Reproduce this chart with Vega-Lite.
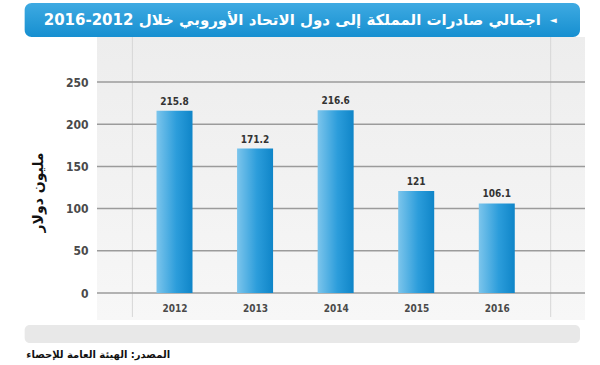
{
  "$schema": "https://vega.github.io/schema/vega-lite/v6.json",
  "width": 488,
  "height": 342,
  "autosize": {"type": "none"},
  "padding": {"left": 97, "top": 3, "right": 15, "bottom": 20},
  "background": "white",
  "config": {
    "view": {"stroke": null},
    "font": "DejaVu Sans",
    "axis": {"grid": false, "domain": false, "ticks": false, "title": null},
    "axisX": {"labelFont": "DejaVu Sans Condensed", "labelFontWeight": "bold", "labelFontSize": 10, "labelColor": "#4a4a4a"},
    "axisY": {"labelFont": "DejaVu Sans Condensed", "labelFontWeight": "bold", "labelFontSize": 12, "labelColor": "#4a4a4a"}
  },
  "datasets": {
    "exports": [
      {"year": 2012, "value": 215.8},
      {"year": 2013, "value": 171.2},
      {"year": 2014, "value": 216.6},
      {"year": 2015, "value": 121},
      {"year": 2016, "value": 106.1}
    ],
    "ticks": [{"tick": 0}, {"tick": 50}, {"tick": 100}, {"tick": 150}, {"tick": 200}, {"tick": 250}],
    "one": [{}]
  },
  "layer": [
    {
      "data": {"name": "one"},
      "mark": {"type": "rect", "fill": {"gradient": "linear", "x1": 0, "x2": 0, "y1": 0, "y2": 1, "stops": [{"offset": 0, "color": "#ededed"}, {"offset": 1, "color": "#f7f7f7"}]}},
      "encoding": {
        "y": {"datum": 303.3, "scale": {"domain": [-61.6, 343.6], "nice": false, "zero": false}},
        "y2": {"datum": -32}
      }
    },
    {
      "data": {"name": "one"},
      "mark": {"type": "rule", "color": "#d6d6d6", "strokeWidth": 1},
      "encoding": {
        "x": {"datum": 2011.477, "scale": {"domain": [2011.1, 2017.033], "nice": false, "zero": false}},
        "y": {"datum": 303.3, "scale": {"domain": [-61.6, 343.6], "nice": false, "zero": false}},
        "y2": {"datum": -28.4}
      }
    },
    {
      "data": {"name": "one"},
      "mark": {"type": "rule", "color": "#d6d6d6", "strokeWidth": 1},
      "encoding": {
        "x": {"datum": 2016.669, "scale": {"domain": [2011.1, 2017.033], "nice": false, "zero": false}},
        "y": {"datum": 303.3, "scale": {"domain": [-61.6, 343.6], "nice": false, "zero": false}},
        "y2": {"datum": -28.4}
      }
    },
    {
      "data": {"name": "ticks"},
      "mark": {"type": "rule", "color": "#9b9b9b", "strokeWidth": 1.5},
      "encoding": {
        "y": {"field": "tick", "type": "quantitative", "scale": {"domain": [-61.6, 343.6], "nice": false, "zero": false}}
      }
    },
    {
      "data": {"name": "exports"},
      "mark": {
        "type": "bar",
        "orient": "vertical",
        "size": 36,
        "fill": {"gradient": "linear", "x1": 0, "x2": 1, "y1": 0, "y2": 0, "stops": [{"offset": 0, "color": "#7cc5ec"}, {"offset": 0.55, "color": "#2c9ddb"}, {"offset": 1, "color": "#0f85c8"}]}
      },
      "encoding": {
        "x": {
          "field": "year", "type": "quantitative",
          "scale": {"domain": [2011.1, 2017.033], "nice": false, "zero": false},
          "axis": {"values": [2012, 2013, 2014, 2015, 2016], "format": "d", "title": null, "offset": -46, "labelPadding": 4, "zindex": 2}
        },
        "y": {
          "field": "value", "type": "quantitative",
          "scale": {"domain": [-61.6, 343.6], "nice": false, "zero": false},
          "axis": {
            "values": [0, 50, 100, 150, 200, 250], "labelPadding": 9,
            "title": "مليون دولار", "titleFont": "DejaVu Sans", "titleFontSize": 14, "titleFontWeight": "bold", "titleColor": "#111111",
            "titleX": -59, "titleY": 189, "titleAngle": -90, "titleAlign": "center", "titleBaseline": "middle"
          }
        },
        "y2": {"datum": 0}
      }
    },
    {
      "data": {"name": "exports"},
      "mark": {"type": "text", "dy": -9, "font": "DejaVu Sans Condensed", "fontWeight": "bold", "fontSize": 10, "color": "#333333"},
      "encoding": {
        "x": {"field": "year", "type": "quantitative", "scale": {"domain": [2011.1, 2017.033], "nice": false, "zero": false}},
        "y": {"field": "value", "type": "quantitative", "scale": {"domain": [-61.6, 343.6], "nice": false, "zero": false}},
        "text": {"field": "value", "type": "quantitative"}
      }
    },
    {
      "data": {"name": "one"},
      "mark": {"type": "rect", "cornerRadius": 7, "fill": {"gradient": "linear", "x1": 0, "x2": 0, "y1": 0, "y2": 1, "stops": [{"offset": 0, "color": "#3eaae2"}, {"offset": 1, "color": "#168fd0"}]}},
      "encoding": {
        "x": {"datum": 2010.14, "scale": {"domain": [2011.1, 2017.033], "nice": false, "zero": false}},
        "x2": {"datum": 2017.033},
        "y": {"datum": 343.6, "scale": {"domain": [-61.6, 343.6], "nice": false, "zero": false}},
        "y2": {"datum": 303.3}
      }
    },
    {
      "data": {"name": "one"},
      "mark": {"type": "text", "align": "right", "baseline": "middle", "font": "DejaVu Sans", "fontWeight": "bold", "fontSize": 15, "color": "white"},
      "encoding": {
        "x": {"datum": 2016.547, "scale": {"domain": [2011.1, 2017.033], "nice": false, "zero": false}},
        "y": {"datum": 323.5, "scale": {"domain": [-61.6, 343.6], "nice": false, "zero": false}},
        "text": {"value": "اجمالي صادرات المملكة إلى دول الاتحاد الأوروبي خلال 2012-2016"}
      }
    },
    {
      "data": {"name": "one"},
      "mark": {"type": "text", "align": "center", "baseline": "middle", "font": "DejaVu Sans", "fontSize": 9, "color": "white"},
      "encoding": {
        "x": {"datum": 2016.7, "scale": {"domain": [2011.1, 2017.033], "nice": false, "zero": false}},
        "y": {"datum": 323.5, "scale": {"domain": [-61.6, 343.6], "nice": false, "zero": false}},
        "text": {"value": "◄"}
      }
    },
    {
      "data": {"name": "one"},
      "mark": {"type": "rect", "cornerRadius": 5, "fill": "#e8e8e8"},
      "encoding": {
        "x": {"datum": 2010.14, "scale": {"domain": [2011.1, 2017.033], "nice": false, "zero": false}},
        "x2": {"datum": 2017.033},
        "y": {"datum": -37.9, "scale": {"domain": [-61.6, 343.6], "nice": false, "zero": false}},
        "y2": {"datum": -59.2}
      }
    },
    {
      "data": {"name": "one"},
      "mark": {"type": "text", "align": "left", "baseline": "middle", "font": "DejaVu Sans", "fontWeight": "bold", "fontSize": 10, "color": "#111111"},
      "encoding": {
        "x": {"datum": 2010.16, "scale": {"domain": [2011.1, 2017.033], "nice": false, "zero": false}},
        "y": {"datum": -73.5, "scale": {"domain": [-61.6, 343.6], "nice": false, "zero": false}},
        "text": {"value": "المصدر: الهيئة العامة للإحصاء"}
      }
    }
  ]
}
